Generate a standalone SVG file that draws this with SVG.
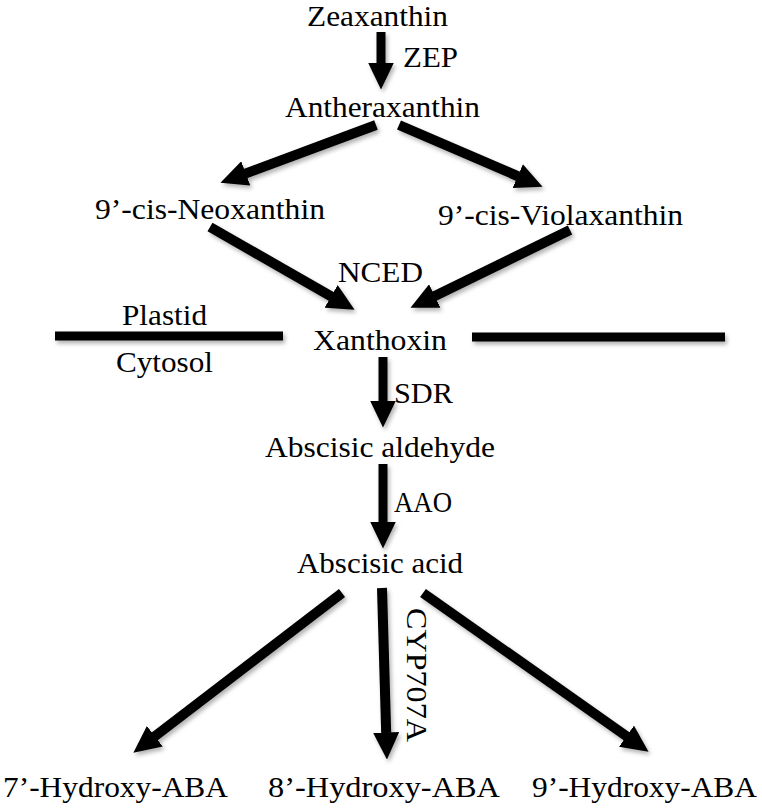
<svg xmlns="http://www.w3.org/2000/svg" width="762" height="809" viewBox="0 0 762 809">
<style>
text{font-family:"Liberation Serif","Times New Roman",serif;font-size:29px;fill:#000}
.sh{stroke:#000;stroke-width:10;fill:none;marker-end:url(#ah)}
.mem{stroke:#000;stroke-width:9}
</style>
<defs>
<filter id="ds" x="-20%" y="-20%" width="140%" height="140%">
<feDropShadow dx="2" dy="3" stdDeviation="2" flood-color="#000" flood-opacity="0.3"/>
</filter>
<marker id="ah" markerUnits="userSpaceOnUse" markerWidth="27" markerHeight="26" viewBox="0 0 27 26" refX="0.5" refY="13" orient="auto">
<path d="M0,0 L27,13 L0,26 z" fill="#000"/>
</marker>
</defs>
<rect width="762" height="809" fill="#fff"/>
<g id="connectors" filter="url(#ds)">
<line class="sh" x1="381" y1="32" x2="381" y2="63" style="stroke-width:9"/>
<line class="sh" x1="376" y1="125" x2="245.3" y2="173.6"/>
<line class="sh" x1="399" y1="125" x2="518.2" y2="176.3"/>
<line class="sh" x1="210" y1="227" x2="331.6" y2="296.6"/>
<line class="sh" x1="570" y1="230" x2="434.3" y2="296.2"/>
<line class="sh" x1="383" y1="357" x2="383" y2="401" style="stroke-width:9"/>
<line class="sh" x1="383" y1="464" x2="383" y2="522" style="stroke-width:9"/>
<line class="sh" x1="342" y1="593" x2="154.4" y2="736.6"/>
<line class="sh" x1="382" y1="588" x2="386.2" y2="733"/>
<line class="sh" x1="423" y1="593" x2="626.9" y2="736.5"/>
<line class="mem" x1="55" y1="336" x2="283" y2="336"/>
<line class="mem" x1="472" y1="337" x2="725" y2="337"/>
</g>
<g id="zeaxanthin"><text x="307" y="26" textLength="141" lengthAdjust="spacingAndGlyphs">Zeaxanthin</text></g>
<g id="zep"><text x="403" y="67" textLength="55" lengthAdjust="spacingAndGlyphs">ZEP</text></g>
<g id="antheraxanthin"><text x="285" y="117" textLength="195" lengthAdjust="spacingAndGlyphs">Antheraxanthin</text></g>
<g id="neoxanthin"><text x="95" y="219" textLength="230" lengthAdjust="spacingAndGlyphs">9’-cis-Neoxanthin</text></g>
<g id="violaxanthin"><text x="438" y="225" textLength="245" lengthAdjust="spacingAndGlyphs">9’-cis-Violaxanthin</text></g>
<g id="nced"><text x="338" y="282" textLength="85" lengthAdjust="spacingAndGlyphs">NCED</text></g>
<g id="plastid"><text x="122" y="325" textLength="85" lengthAdjust="spacingAndGlyphs">Plastid</text></g>
<g id="xanthoxin"><text x="313" y="350" textLength="134" lengthAdjust="spacingAndGlyphs">Xanthoxin</text></g>
<g id="cytosol"><text x="116" y="372" textLength="97" lengthAdjust="spacingAndGlyphs">Cytosol</text></g>
<g id="sdr"><text x="394" y="403" textLength="59" lengthAdjust="spacingAndGlyphs">SDR</text></g>
<g id="aldehyde"><text x="265" y="457" textLength="230" lengthAdjust="spacingAndGlyphs">Abscisic aldehyde</text></g>
<g id="aao"><text x="394" y="512" textLength="58" lengthAdjust="spacingAndGlyphs">AAO</text></g>
<g id="aba"><text x="297" y="573" textLength="166" lengthAdjust="spacingAndGlyphs">Abscisic acid</text></g>
<g id="cyp707a"><text transform="translate(407,608) rotate(90)" x="0" y="0" textLength="134" lengthAdjust="spacingAndGlyphs">CYP707A</text></g>
<g id="h7"><text x="3" y="797" textLength="225" lengthAdjust="spacingAndGlyphs">7’-Hydroxy-ABA</text></g>
<g id="h8"><text x="268" y="797" textLength="232" lengthAdjust="spacingAndGlyphs">8’-Hydroxy-ABA</text></g>
<g id="h9"><text x="532" y="797" textLength="225" lengthAdjust="spacingAndGlyphs">9’-Hydroxy-ABA</text></g>
</svg>
